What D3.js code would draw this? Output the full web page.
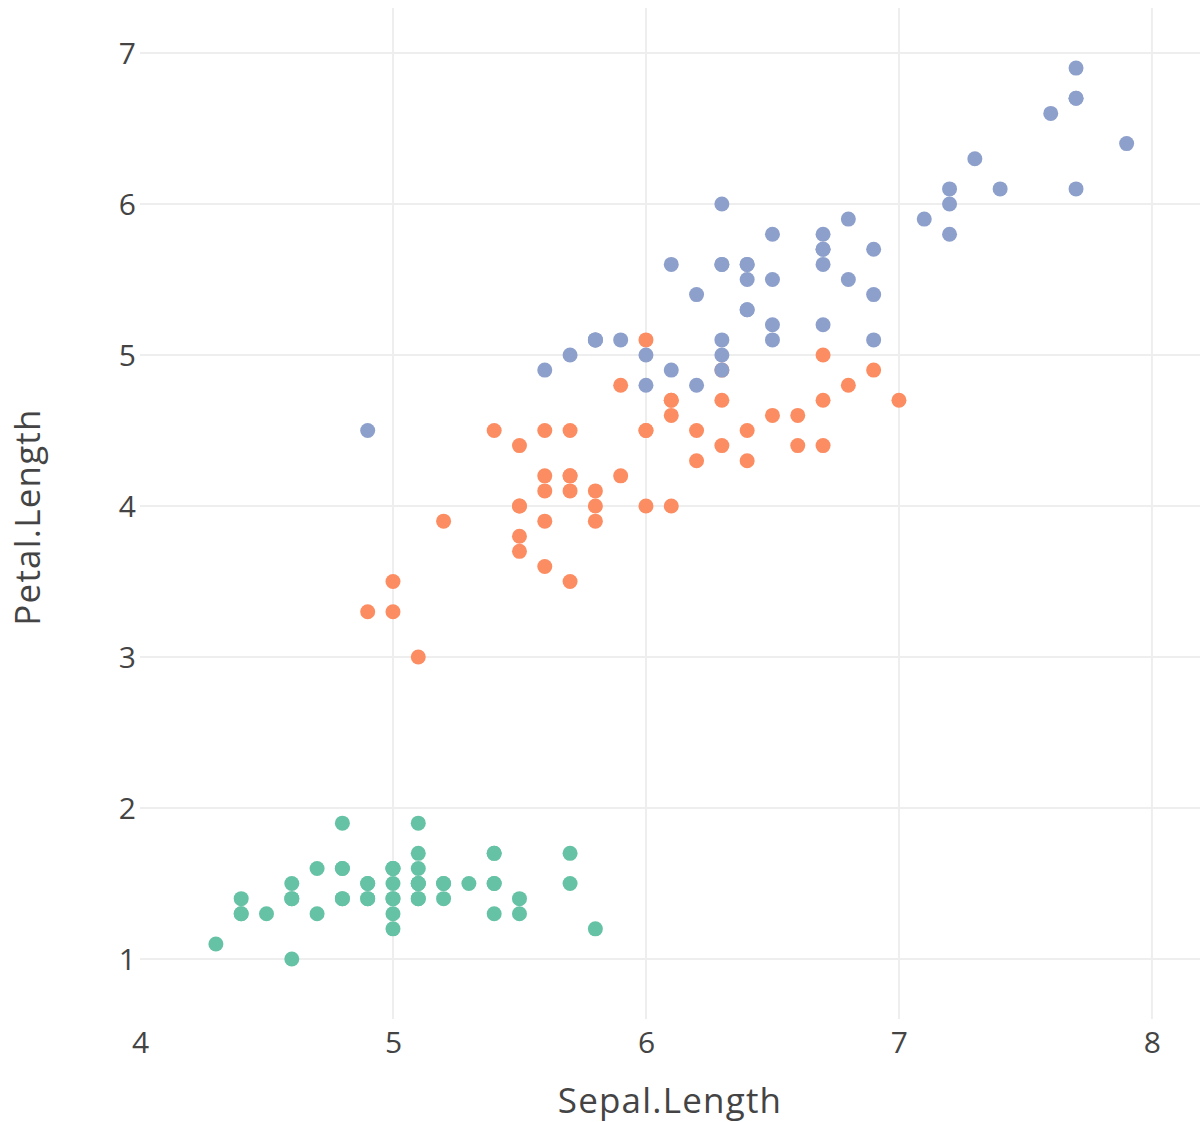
<!DOCTYPE html>
<html>
<head>
<meta charset="utf-8">
<script src="https://cdn.jsdelivr.net/npm/d3@7"></script>
<style>
  html, body { margin: 0; padding: 0; background: #fff; }
  svg { display: block; }
  text { font-family: "Open Sans", "Noto Sans", sans-serif; fill: #444; }
</style>
</head>
<body>
<svg id="chart" width="1200" height="1122"></svg>
<script>
// Iris measurements: sepal length (x) and petal length (y), one pair of arrays per species
const species = ["setosa", "versicolor", "virginica"];
const colors = ["#66c2a5", "#fc8d62", "#8da0cb"];

const setosaSepal = [5.1,4.9,4.7,4.6,5.0,5.4,4.6,5.0,4.4,4.9,5.4,4.8,4.8,4.3,5.8,5.7,5.4,5.1,5.7,5.1,5.4,5.1,4.6,5.1,4.8,5.0,5.0,5.2,5.2,4.7,4.8,5.4,5.2,5.5,4.9,5.0,5.5,4.9,4.4,5.1,5.0,4.5,4.4,5.0,5.1,4.8,5.1,4.6,5.3,5.0];
const setosaPetal = [1.4,1.4,1.3,1.5,1.4,1.7,1.4,1.5,1.4,1.5,1.5,1.6,1.4,1.1,1.2,1.5,1.3,1.4,1.7,1.5,1.7,1.5,1.0,1.7,1.9,1.6,1.6,1.5,1.4,1.6,1.6,1.5,1.5,1.4,1.5,1.2,1.3,1.4,1.3,1.5,1.3,1.3,1.3,1.6,1.9,1.4,1.6,1.4,1.5,1.4];

const versicolorSepal = [7.0,6.4,6.9,5.5,6.5,5.7,6.3,4.9,6.6,5.2,5.0,5.9,6.0,6.1,5.6,6.7,5.6,5.8,6.2,5.6,5.9,6.1,6.3,6.1,6.4,6.6,6.8,6.7,6.0,5.7,5.5,5.5,5.8,6.0,5.4,6.0,6.7,6.3,5.6,5.5,5.5,6.1,5.8,5.0,5.6,5.7,5.7,6.2,5.1,5.7];
const versicolorPetal = [4.7,4.5,4.9,4.0,4.6,4.5,4.7,3.3,4.6,3.9,3.5,4.2,4.0,4.7,3.6,4.4,4.5,4.1,4.5,3.9,4.8,4.0,4.9,4.7,4.3,4.4,4.8,5.0,4.5,3.5,3.8,3.7,3.9,5.1,4.5,4.5,4.7,4.4,4.1,4.0,4.4,4.6,4.0,3.3,4.2,4.2,4.2,4.3,3.0,4.1];

const virginicaSepal = [6.3,5.8,7.1,6.3,6.5,7.6,4.9,7.3,6.7,7.2,6.5,6.4,6.8,5.7,5.8,6.4,6.5,7.7,7.7,6.0,6.9,5.6,7.7,6.3,6.7,7.2,6.2,6.1,6.4,7.2,7.4,7.9,6.4,6.3,6.1,7.7,6.3,6.4,6.0,6.9,6.7,6.9,5.8,6.8,6.7,6.7,6.3,6.5,6.2,5.9];
const virginicaPetal = [6.0,5.1,5.9,5.6,5.8,6.6,4.5,6.3,5.8,6.1,5.1,5.3,5.5,5.0,5.1,5.3,5.5,6.7,6.9,5.0,5.7,4.9,6.7,4.9,5.7,6.0,4.8,4.9,5.6,5.8,6.1,6.4,5.6,5.1,5.6,6.1,5.6,5.5,4.8,5.4,5.6,5.1,5.1,5.9,5.7,5.2,5.0,5.2,5.4,5.1];

const xTicks = [4, 5, 6, 7, 8];
const yTicks = [1, 2, 3, 4, 5, 6, 7];
const xTitle = "Sepal.Length";
const yTitle = "Petal.Length";

const seriesX = [setosaSepal, versicolorSepal, virginicaSepal];
const seriesY = [setosaPetal, versicolorPetal, virginicaPetal];
const points = species.flatMap((s, i) =>
  seriesX[i].map((x, j) => ({ species: s, x, y: seriesY[i][j], color: colors[i] })));

const svg = d3.select("#chart");
const plot = { left: 140, right: 1200, top: 8, bottom: 1019 };

const x = d3.scaleLinear().domain([4.0, 8.19]).range([plot.left, plot.right]);
const y = d3.scaleLinear().domain([0.603, 7.298]).range([plot.bottom, plot.top]);

// grid lines
const grid = svg.append("g");
grid.selectAll("line.vx").data(xTicks.filter(t => t > x.domain()[0])).join("line")
  .attr("x1", d => x(d)).attr("x2", d => x(d))
  .attr("y1", plot.top).attr("y2", plot.bottom)
  .attr("stroke", "#eee").attr("stroke-width", 2);
grid.selectAll("line.hy").data(yTicks).join("line")
  .attr("x1", plot.left).attr("x2", plot.right)
  .attr("y1", d => y(d)).attr("y2", d => y(d))
  .attr("stroke", "#eee").attr("stroke-width", 2);

// axes (labels only, no domain lines or tick marks)
const xAxis = d3.axisBottom(x).tickValues(xTicks).tickSize(0).tickPadding(0).tickFormat(d3.format("d"));
const gx = svg.append("g").attr("transform", `translate(0,${plot.bottom})`).call(xAxis);
gx.select(".domain").remove();
gx.selectAll("text").attr("y", 34).attr("dy", 0).style("font-size", "30px")
  .style("font-family", '"Open Sans", "Noto Sans", sans-serif').attr("fill", "#444");

const yAxis = d3.axisLeft(y).tickValues(yTicks).tickSize(0).tickPadding(0).tickFormat(d3.format("d"));
const gy = svg.append("g").attr("transform", `translate(${plot.left - 4},0)`).call(yAxis);
gy.select(".domain").remove();
gy.selectAll("text").attr("x", 0).attr("dy", "0.36em").style("font-size", "30px")
  .style("font-family", '"Open Sans", "Noto Sans", sans-serif').attr("fill", "#444");

// points
svg.append("g").selectAll("circle").data(points).join("circle")
  .attr("cx", d => x(d.x)).attr("cy", d => y(d.y))
  .attr("r", 7.5).attr("fill", d => d.color);

// axis titles
svg.append("text").attr("x", (plot.left + plot.right) / 2).attr("y", 1113)
  .attr("text-anchor", "middle").style("font-size", "35px").style("letter-spacing", "1.2px").text(xTitle);
svg.append("text").attr("transform", `translate(40,517) rotate(-90)`)
  .attr("text-anchor", "middle").style("font-size", "35px").style("letter-spacing", "1.2px").text(yTitle);
</script>
</body>
</html>
